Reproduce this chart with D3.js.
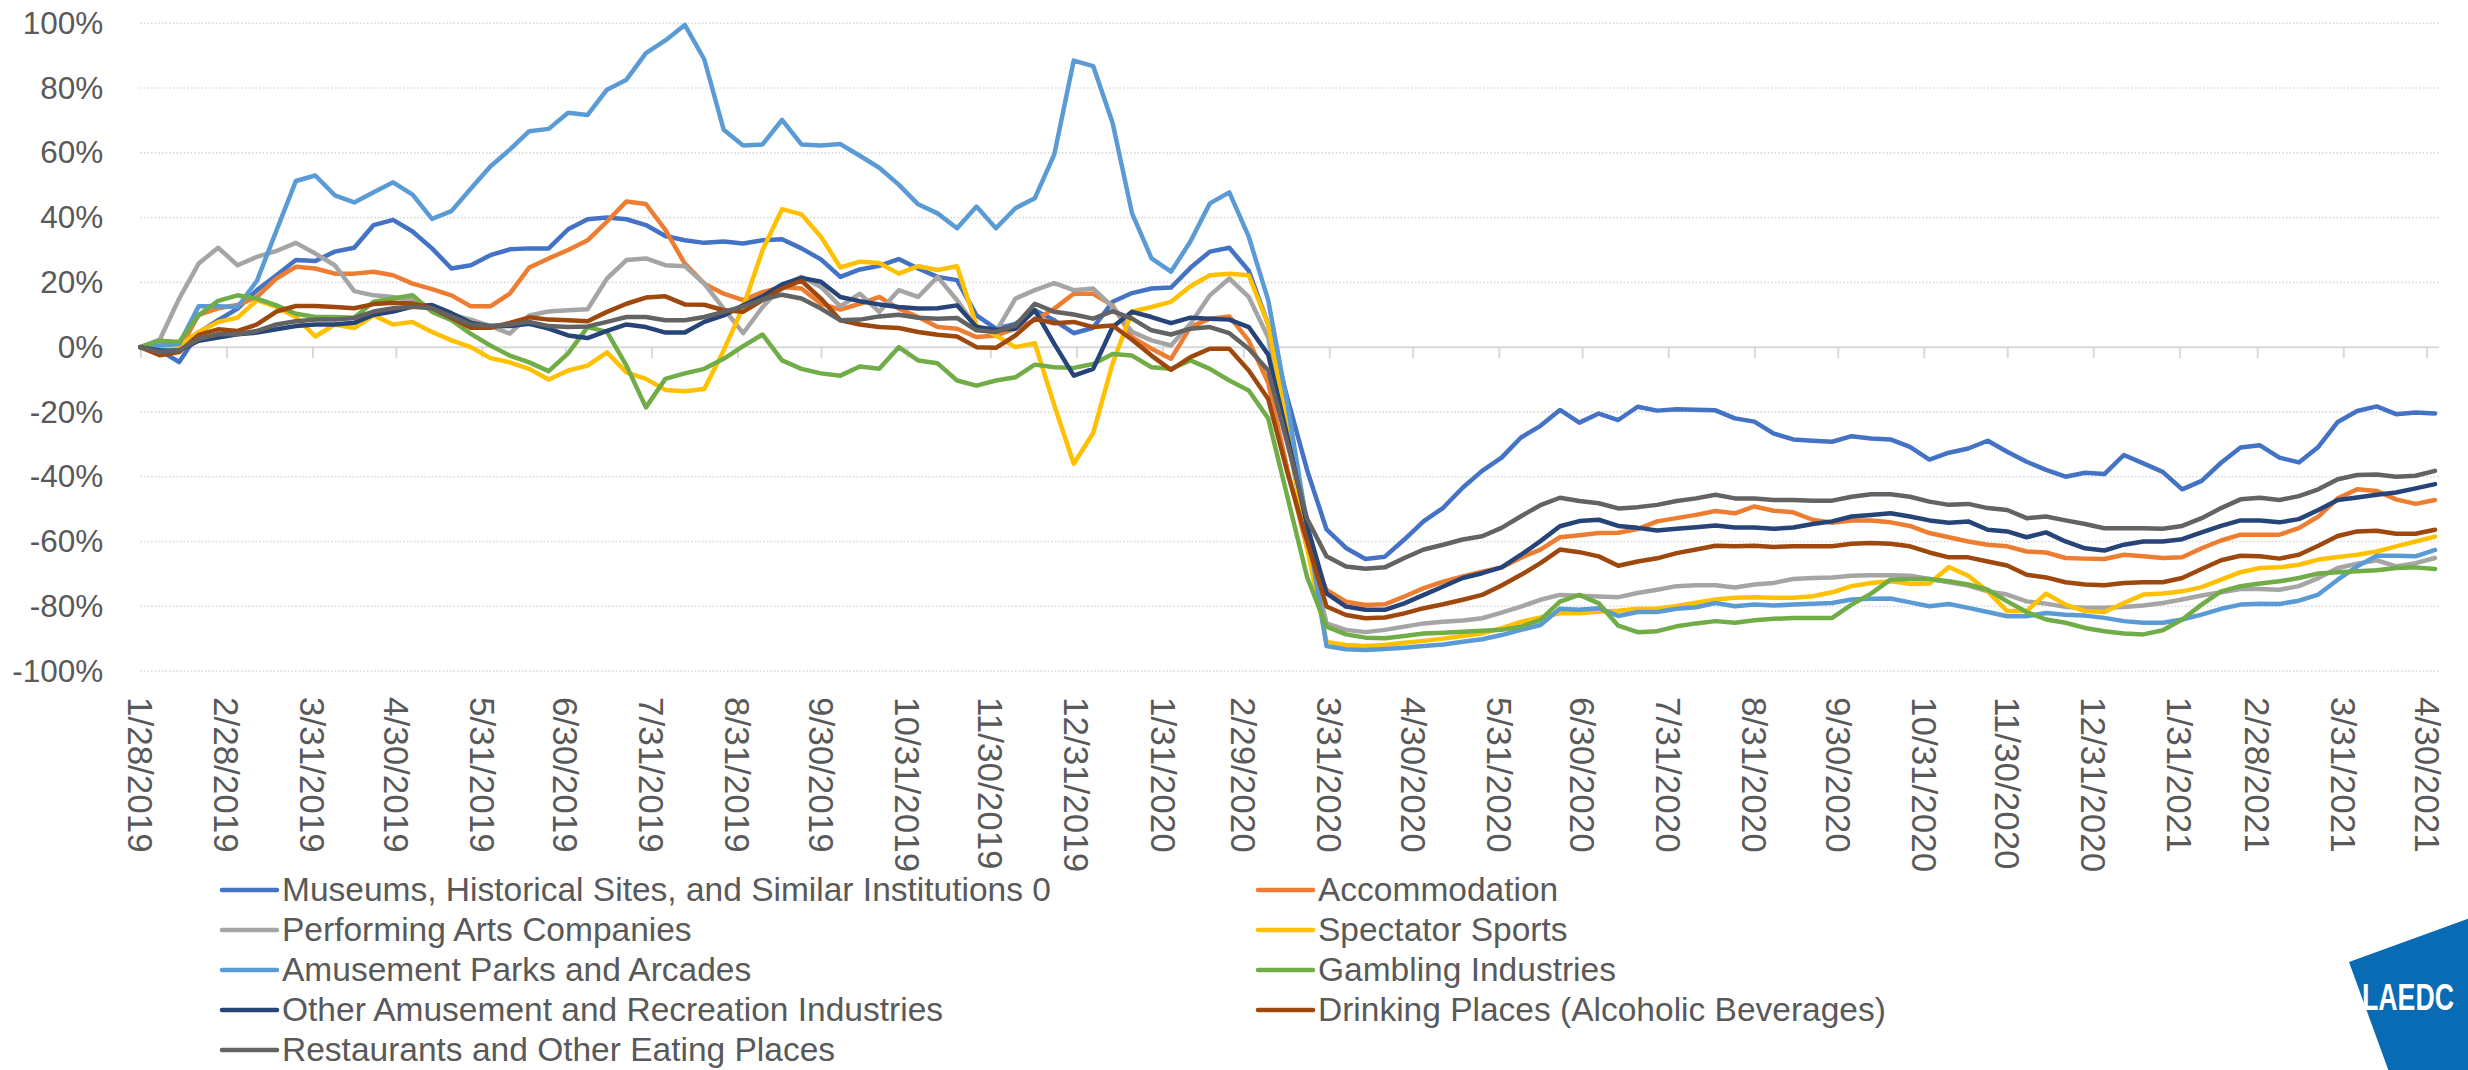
<!DOCTYPE html>
<html lang="en">
<head>
<meta charset="utf-8">
<title>Weekly change by industry</title>
<script src="https://d3js.org/d3.v7.min.js"></script>
<style>
    body { margin: 0; background-color: #ffffff; }
    svg { display: block; }

    /* axis label styles */
    .y.label text { font-family: "Liberation Sans", Arial, sans-serif; font-size: 31.5px; fill: #595959; }
    .x.label text { font-family: "Liberation Sans", Arial, sans-serif; font-size: 35px; fill: #595959; }
    .legend_labels { font-family: "Liberation Sans", Arial, sans-serif; font-size: 33.5px; fill: #595959; }
    .logo_text { font-family: "Liberation Sans", Arial, sans-serif; font-size: 36px; font-weight: bold; fill: #ffffff; }
</style>
</head>
<body>
<svg id="svg1" width="2468" height="1070"></svg>
<script>
// first week of the series, one value per week after it
const startDate = "1/28/2019";

// labelled dates on the x axis
const tickDates = ["1/28/2019", "2/28/2019", "3/31/2019", "4/30/2019", "5/31/2019", "6/30/2019",
    "7/31/2019", "8/31/2019", "9/30/2019", "10/31/2019", "11/30/2019", "12/31/2019",
    "1/31/2020", "2/29/2020", "3/31/2020", "4/30/2020", "5/31/2020", "6/30/2020",
    "7/31/2020", "8/31/2020", "9/30/2020", "10/31/2020", "11/30/2020", "12/31/2020",
    "1/31/2021", "2/28/2021", "3/31/2021", "4/30/2021"];

const yTicks = [100, 80, 60, 40, 20, 0, -20, -40, -60, -80, -100];

const seriesNames = ["Museums, Historical Sites, and Similar Institutions 0", "Accommodation",
    "Performing Arts Companies", "Spectator Sports", "Amusement Parks and Arcades",
    "Gambling Industries", "Other Amusement and Recreation Industries",
    "Drinking Places (Alcoholic Beverages)", "Restaurants and Other Eating Places"];

// % change, weekly
const museums = [0, -1, -4.6, 4.5, 8.3, 11.9, 17.6, 22.2, 26.9, 26.6,
    29.5, 30.7, 37.7, 39.3, 35.7, 30.5, 24.3, 25.3, 28.4, 30.2,
    30.5, 30.5, 36.4, 39.5, 40, 39.5, 37.7, 34.3, 33, 32.2,
    32.6, 32, 33, 33.3, 30.5, 27.1, 21.7, 24, 25.1, 27.2,
    24.3, 21.7, 20.7, 9.8, 5.7, 7.2, 11.4, 8.3, 4.3, 6,
    14, 16.7, 18.1, 18.4, 24.5, 29.5, 30.7, 23.6, 7, -16,
    -38, -56.3, -62, -65.4, -64.7, -59.4, -53.7, -49.6, -43.4, -38.2,
    -34.1, -27.9, -24.3, -19.4, -23.3, -20.5, -22.5, -18.4, -19.6, -19.2,
    -19.3, -19.5, -22, -23, -26.7, -28.5, -28.9, -29.2, -27.5, -28.2,
    -28.5, -30.8, -34.7, -32.6, -31.3, -28.9, -32.3, -35.4, -37.9, -40,
    -38.8, -39.2, -33.3, -35.9, -38.5, -43.9, -41.3, -35.7, -31, -30.3,
    -34.1, -35.6, -30.8, -23.1, -19.7, -18.3, -20.7, -20.2, -20.5];

const accommodation = [0, -1.5, -1, 10, 12, 13, 15.5, 21.2, 24.8, 24.3,
    22.7, 22.7, 23.3, 22.2, 19.6, 17.9, 16, 12.6, 12.6, 16.5,
    24.6, 27.4, 30, 33, 38.8, 45, 44.2, 36.2, 25.8, 19.6,
    16.5, 14.5, 17, 18.6, 18.1, 13.4, 11.6, 13.4, 15.5, 11.9,
    9.3, 6.2, 5.7, 3.1, 3.6, 5.7, 8.3, 11.9, 16.5, 16.5,
    12.9, 3.1, -0.5, -3.6, 6.2, 8.8, 9.5, 2, -11, -38,
    -62, -75, -78.6, -79.6, -79.4, -77, -74.4, -72.4, -70.8, -69.3,
    -68, -65, -62.5, -58.7, -58.1, -57.4, -57.3, -56.2, -53.8, -52.8,
    -51.8, -50.6, -51.3, -49.2, -50.5, -51, -53.3, -54.2, -53.5, -53.5,
    -54.1, -55.2, -57.4, -58.7, -60, -61, -61.5, -63.1, -63.4, -65.1,
    -65.3, -65.4, -64.1, -64.6, -65.1, -64.9, -62.1, -59.7, -57.9, -57.9,
    -57.9, -55.9, -52.3, -46.7, -43.9, -44.4, -47, -48.4, -47.2];

const performingArts = [0, 2.3, 15, 25.8, 30.7, 25.3, 27.9, 29.7, 32.2, 28.9,
    25.3, 17.3, 16, 15.5, 14.5, 12, 10, 8.5, 6.5, 4.2,
    9.8, 11, 11.4, 11.7, 21.2, 26.9, 27.4, 25.3, 25, 19.6,
    11.9, 4.3, 12.4, 18.8, 21.7, 18.6, 12.6, 16.5, 10.9, 17.6,
    15.5, 21.7, 14.5, 6, 4.7, 15, 17.6, 19.8, 17.6, 18.1,
    12.4, 4.7, 2.1, 0.5, 7.2, 16, 21.2, 15.5, 3, -28,
    -60, -85.3, -87.3, -88, -87.3, -86.3, -85.3, -84.8, -84.4, -83.7,
    -82, -80.1, -78, -76.5, -76.8, -77, -77.2, -75.9, -74.9, -73.8,
    -73.5, -73.5, -74.2, -73.3, -72.8, -71.6, -71.3, -71.1, -70.6, -70.4,
    -70.4, -70.6, -71.6, -72.6, -73.6, -75.4, -76.4, -78.5, -79.2, -80.2,
    -80.5, -80.5, -80.2, -79.8, -79, -77.9, -76.7, -75.7, -74.7, -74.7,
    -74.9, -73.8, -71.3, -68.2, -66.9, -65.8, -67.7, -66.7, -65.1];

const spectatorSports = [0, 0.5, 0.5, 4.7, 7.8, 9.1, 14.5, 12.4, 9.3, 3.3,
    7, 5.9, 9.8, 7, 7.8, 4.7, 2.1, 0, -3.4, -4.7,
    -6.7, -10, -7.2, -5.7, -1.6, -7.8, -9.8, -13.2, -13.6, -12.9,
    -1, 12.4, 30, 42.6, 41, 34.1, 24.6, 26.4, 26, 22.7,
    25, 23.8, 25, 6.7, 3.6, 0, 1.2, -18, -36, -26.5,
    -5, 11, 12.4, 14, 18.8, 22.2, 22.7, 22.2, 7, -25,
    -62, -91, -92, -92.3, -92, -91.3, -90.7, -90, -89.2, -88.4,
    -86.8, -84.8, -83.5, -82.2, -82.2, -81.7, -81.4, -80.8, -80.8, -79.9,
    -78.9, -77.9, -77.4, -77.2, -77.4, -77.4, -76.9, -75.7, -73.8, -72.8,
    -72.3, -73.1, -73, -67.9, -70.6, -75.4, -81.5, -81.5, -76.1, -79.5,
    -81.5, -81.8, -79, -76.4, -76.1, -75.4, -74.1, -71.8, -69.5, -68.2,
    -68, -67.2, -65.6, -64.8, -64.1, -63.1, -61.5, -60, -58.5];

const amusementParks = [0, 0.5, 1, 12.6, 12.6, 12.4, 20.5, 36, 51.3, 53,
    46.9, 44.7, 47.8, 50.9, 47.1, 39.6, 42, 49, 55.8, 61,
    66.7, 67.4, 72.4, 71.7, 79.5, 82.6, 90.8, 94.7, 99.5, 88.9,
    67.1, 62.3, 62.6, 70.2, 62.6, 62.3, 62.7, 59.1, 55.4, 50.2,
    44.1, 41.3, 36.7, 43.4, 36.7, 42.9, 46, 59.5, 88.5, 86.8,
    69.2, 41.3, 27.4, 23.3, 32.6, 44.4, 47.8, 34.1, 14.5, -18,
    -55, -92.3, -93.3, -93.5, -93.2, -92.8, -92.3, -91.8, -91, -90.2,
    -88.9, -87.3, -85.8, -80.8, -81.1, -80.6, -83, -81.8, -81.8, -80.8,
    -80.3, -79, -80, -79.5, -79.8, -79.5, -79.2, -79, -77.9, -77.7,
    -77.6, -78.8, -80, -79.3, -80.5, -81.8, -83.1, -83.1, -82.1, -82.6,
    -82.9, -83.6, -84.6, -85.1, -85.1, -84.1, -82.6, -80.8, -79.5, -79.2,
    -79.3, -78.3, -76.4, -71.8, -67.7, -64.4, -64.4, -64.6, -62.6];

const gambling = [0, 2, 1.6, 9.8, 14.3, 16, 15, 12.9, 10.3, 9.3,
    9.3, 9.1, 14, 15, 16, 10.9, 8.3, 4.1, 0.5, -2.6,
    -4.7, -7.4, -1.9, 6.2, 4.7, -5.7, -18.6, -9.8, -8.1, -6.7,
    -3.6, 0.3, 3.9, -4.1, -6.7, -8.1, -8.8, -6, -6.7, 0,
    -4.1, -5, -10.3, -11.9, -10.3, -9.3, -5.4, -6.2, -6.4, -5.2,
    -2.1, -2.6, -6.2, -6.7, -4.1, -6.7, -10.3, -13.4, -22, -46.5,
    -71, -86.3, -88.7, -89.7, -89.9, -89.2, -88.4, -88.2, -87.9, -87.6,
    -87.3, -86.3, -84.2, -78.6, -76.5, -79.1, -86, -88, -87.7, -86.2,
    -85.3, -84.6, -85.1, -84.3, -83.9, -83.6, -83.6, -83.6, -79.5, -76.1,
    -71.8, -71.6, -71.6, -72.3, -73.3, -74.9, -78.5, -81.8, -84.1, -85.1,
    -86.7, -87.7, -88.4, -88.7, -87.4, -84.1, -79.5, -75.4, -73.8, -73,
    -72.3, -71.3, -69.9, -69.5, -69.2, -68.9, -68.2, -68, -68.5];

const otherAmusement = [0, -1, -1, 2, 3, 4, 4.5, 5.5, 6.5, 7,
    7, 7.5, 10, 11, 12.5, 13, 10.5, 7.5, 6.5, 6.5,
    7.2, 5.7, 3.6, 2.8, 5, 7, 6.2, 4.5, 4.5, 7.8,
    9.8, 12.9, 15.7, 19.4, 21.4, 20.2, 15.5, 14.2, 13.2, 12.4,
    11.9, 12, 12.9, 6.2, 5.4, 5.7, 11.4, 1, -8.8, -6.7,
    6.2, 10.9, 9.3, 7.4, 9.1, 8.8, 8.5, 6.2, -2.3, -28,
    -55, -76, -80.1, -81.1, -81.1, -79.1, -76.5, -73.9, -71.3, -69.8,
    -68, -64.1, -59.9, -55.3, -53.7, -53.3, -55.2, -55.8, -56.6, -56.1,
    -55.6, -55.1, -55.7, -55.7, -56.1, -55.7, -54.6, -53.8, -52.3, -51.8,
    -51.3, -52.3, -53.5, -54.2, -53.8, -56.4, -56.9, -58.7, -57.2, -60,
    -62.1, -62.8, -61, -60, -60, -59.3, -57.2, -55.2, -53.5, -53.5,
    -54.1, -53.1, -50.3, -47.2, -46.4, -45.6, -44.9, -43.6, -42.3];

const drinkingPlaces = [0, -2.5, -1.5, 3.8, 5.5, 5, 7, 11, 12.7, 12.7,
    12.4, 12, 13.3, 13.7, 13.5, 12, 9, 6, 6, 7.5,
    9.2, 8.5, 8.3, 8, 10.9, 13.4, 15.3, 15.7, 13.2, 13.1,
    11.4, 10.9, 14.5, 18.1, 20.5, 15, 8.3, 7, 6.2, 5.9,
    4.7, 3.8, 3.3, 0, -0.2, 3.6, 8.8, 7.4, 7.8, 6.2,
    6.7, 2.3, -2.6, -7, -3.1, -0.5, -0.5, -7.2, -16, -39,
    -60, -80.1, -82.7, -83.7, -83.5, -82.2, -80.6, -79.4, -78, -76.5,
    -73.6, -70.3, -66.7, -62.5, -63.3, -64.6, -67.5, -66.2, -65.2, -63.6,
    -62.5, -61.3, -61.5, -61.3, -61.7, -61.5, -61.5, -61.5, -60.7, -60.5,
    -60.7, -61.5, -63.4, -64.9, -64.9, -66.2, -67.4, -70.3, -71.1, -72.6,
    -73.3, -73.5, -72.8, -72.6, -72.6, -71.3, -68.5, -65.8, -64.4, -64.6,
    -65.3, -64.1, -61.3, -58.3, -56.9, -56.7, -57.6, -57.6, -56.4];

const restaurants = [0, -1.5, -1, 2.5, 4, 4, 5, 7, 8, 8.5,
    8.5, 9, 11, 12, 12.5, 12, 9.5, 7, 6.5, 7,
    7.8, 6.5, 6.2, 6.4, 7.8, 9.3, 9.3, 8.3, 8.3, 9.3,
    10.9, 12.6, 14.7, 16.2, 15, 11.9, 8.3, 8.5, 9.5, 10,
    9.1, 8.8, 9, 5.2, 4.7, 6.7, 13.4, 10.9, 10.1, 8.8,
    11.1, 8.8, 5.2, 3.9, 5.7, 6.2, 4.3, -0.5, -7.2, -30,
    -53, -64.6, -67.7, -68.4, -68, -65.1, -62.5, -61, -59.4, -58.4,
    -55.8, -52.2, -48.8, -46.5, -47.5, -48.2, -49.8, -49.4, -48.7, -47.5,
    -46.7, -45.6, -46.7, -46.7, -47.2, -47.2, -47.4, -47.4, -46.2, -45.4,
    -45.4, -46.2, -47.7, -48.7, -48.4, -49.7, -50.3, -52.8, -52.3, -53.5,
    -54.6, -55.9, -55.9, -55.9, -56.1, -55.2, -52.8, -49.7, -47, -46.5,
    -47.2, -46, -43.9, -40.8, -39.5, -39.3, -40, -39.7, -38.2];

// excel office palette, same order as seriesNames
const myColor = ["#4472C4", "#ED7D31", "#A5A5A5", "#FFC000", "#5B9BD5",
    "#70AD47", "#264478", "#9E480E", "#636363"];

const allSeries = [museums, accommodation, performingArts, spectatorSports, amusementParks,
    gambling, otherAmusement, drinkingPlaces, restaurants];

const svg = d3.select("#svg1");
const parseDate = d3.utcParse("%m/%d/%Y");
const formatDate = d3.utcFormat("%-m/%-d/%Y");

const start = parseDate(startDate);
const weeks = d3.range(museums.length).map(i => d3.utcDay.offset(start, 7 * i));

const xScale = d3.scaleUtc()
    .domain([weeks[0], weeks[weeks.length - 1]])
    .range([140.3, 2435]);

const yScale = d3.scaleLinear()
    .domain([-100, 100])
    .range([671, 23.3]);

const gridRight = 2439;

// dotted gridlines
svg.append("g")
    .selectAll("line")
    .data(yTicks.filter(d => d !== 0))
    .enter()
    .append("line")
    .attr("x1", xScale.range()[0])
    .attr("x2", gridRight)
    .attr("y1", d => yScale(d))
    .attr("y2", d => yScale(d))
    .style("stroke", "#D9D9D9")
    .style("stroke-width", 1.6)
    .style("stroke-dasharray", "1.6,2");

// y axis labels
const leftAxis = d3.axisLeft(yScale)
    .tickValues(yTicks)
    .tickSize(0)
    .tickPadding(37)
    .tickFormat(d => d + "%");

svg.append("g")
    .attr("class", "y label")
    .attr("transform", "translate(" + xScale.range()[0] + ",0)")
    .call(leftAxis)
    .call(g => g.select(".domain").remove());

// horizontal axis through 0% with tick marks
const zeroAxis = d3.axisBottom(xScale)
    .tickValues(tickDates.map(parseDate))
    .tickSize(11)
    .tickSizeOuter(0)
    .tickFormat("");

svg.append("g")
    .attr("transform", `translate(0, ${yScale(0)})`)
    .call(zeroAxis)
    .call(g => g.select(".domain").attr("d", `M${xScale.range()[0]},0H${gridRight}`))
    .call(g => g.selectAll("path, line").style("stroke", "#D9D9D9").style("stroke-width", 2));

// date labels at the bottom, rotated
const bottomAxis = d3.axisBottom(xScale)
    .tickValues(tickDates.map(parseDate))
    .tickSize(0)
    .tickFormat(formatDate);

svg.append("g")
    .attr("class", "x label")
    .attr("transform", "translate(0,697)")
    .call(bottomAxis)
    .call(g => g.select(".domain").remove())
    .call(g => g.selectAll("text")
        .attr("x", 0)
        .attr("y", 0)
        .attr("dy", "0.36em")
        .attr("text-anchor", "start")
        .attr("transform", "rotate(90)"));

// line generator
const line = d3.line()
    .x((d, i) => xScale(weeks[i]))
    .y(d => yScale(d));

svg.append("g")
    .selectAll("path")
    .data(allSeries)
    .enter()
    .append("path")
    .attr("d", line)
    .style("fill", "none")
    .style("stroke", (d, i) => myColor[i])
    .style("stroke-width", 4.5)
    .style("stroke-linejoin", "round")
    .style("stroke-linecap", "round");

// LEGEND - two columns
const legendCols = [{ x: 222, items: [0, 2, 4, 6, 8] }, { x: 1258, items: [1, 3, 5, 7] }];
const rowTop = 890, rowStep = 40, size = 55;

legendCols.forEach(function (col) {
    const g = svg.append("g");
    g.selectAll("line")
        .data(col.items)
        .enter()
        .append("line")
        .attr("x1", col.x)
        .attr("x2", col.x + size)
        .attr("y1", (d, i) => rowTop + i * rowStep)
        .attr("y2", (d, i) => rowTop + i * rowStep)
        .style("stroke", d => myColor[d])
        .style("stroke-width", 4.5)
        .style("stroke-linecap", "round");

    g.selectAll("text")
        .data(col.items)
        .enter()
        .append("text")
        .attr("class", "legend_labels")
        .attr("x", col.x + size + 5)
        .attr("y", (d, i) => rowTop + i * rowStep)
        .attr("dy", "0.34em")
        .text(d => seriesNames[d]);
});

// logo in the corner
const logo = svg.append("g");
logo.append("rect")
    .attr("x", 0)
    .attr("y", 0)
    .attr("width", 180)
    .attr("height", 180)
    .attr("transform", "translate(2349,962) rotate(-20)")
    .style("fill", "#0A6BB5");
logo.append("text")
    .attr("class", "logo_text")
    .attr("x", 2362)
    .attr("y", 1010)
    .attr("textLength", 92)
    .attr("lengthAdjust", "spacingAndGlyphs")
    .text("LAEDC");
</script>
</body>
</html>
